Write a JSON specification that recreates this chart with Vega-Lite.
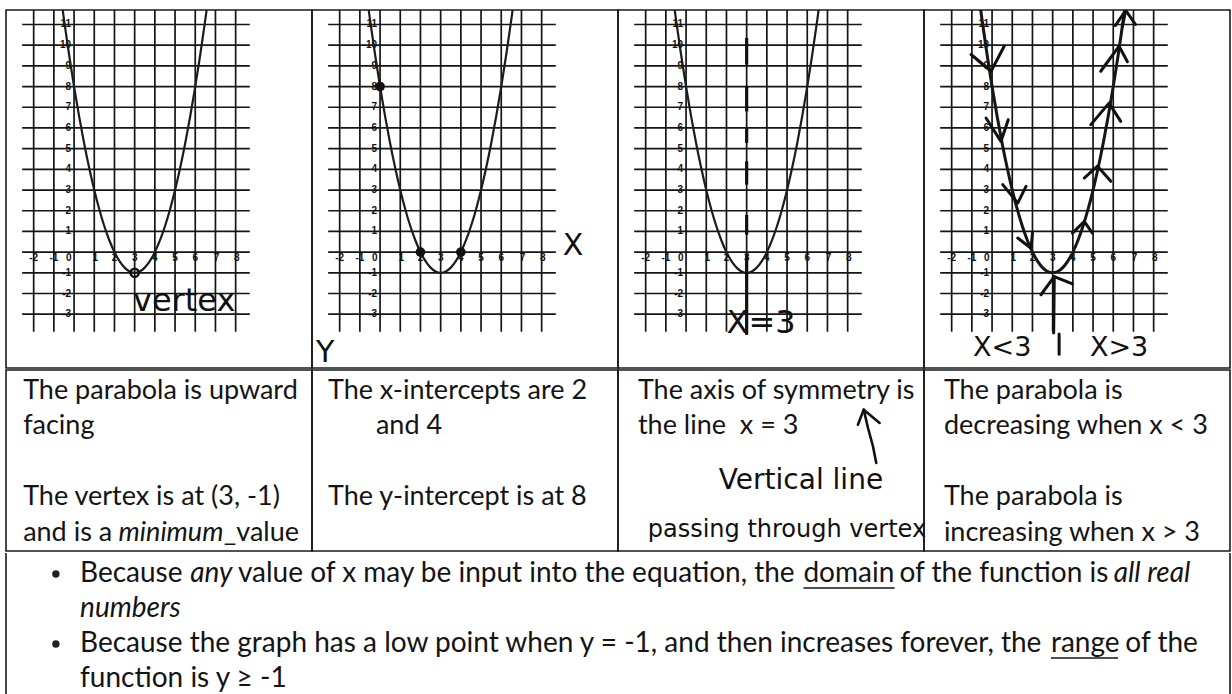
{
  "$schema": "https://vega.github.io/schema/vega-lite/v6.json",
  "background": "white",
  "padding": {"left": 5, "top": 9, "right": 2, "bottom": 0},
  "spacing": 0,
  "config": {"view": {"stroke": "#1a1a1a", "strokeWidth": 1.6}, "concat": {"spacing": 0}},
  "datasets": {
    "xlines": [{"x": -2}, {"x": -1}, {"x": 0}, {"x": 1}, {"x": 2}, {"x": 3}, {"x": 4}, {"x": 5}, {"x": 6}, {"x": 7}, {"x": 8}],
    "ylines": [{"y": -3}, {"y": -2}, {"y": -1}, {"y": 0}, {"y": 1}, {"y": 2}, {"y": 3}, {"y": 4}, {"y": 5}, {"y": 6}, {"y": 7}, {"y": 8}, {"y": 9}, {"y": 10}, {"y": 11}],
    "xlabels": [{"x": -2, "t": "-2"}, {"x": -1, "t": "-1"}, {"x": -0.26, "t": "0"}, {"x": 1.05, "t": "1"}, {"x": 2, "t": "2"}, {"x": 3, "t": "3"}, {"x": 4, "t": "4"}, {"x": 5, "t": "5"}, {"x": 6, "t": "6"}, {"x": 7.05, "t": "7"}, {"x": 8.05, "t": "8"}],
    "ylabels": [{"y": 11, "t": "11"}, {"y": 10, "t": "10"}, {"y": 9, "t": "9"}, {"y": 8, "t": "8"}, {"y": 7, "t": "7"}, {"y": 6, "t": "6"}, {"y": 5, "t": "5"}, {"y": 4, "t": "4"}, {"y": 3, "t": "3"}, {"y": 2, "t": "2"}, {"y": 1, "t": "1"}, {"y": -1, "t": "-1"}, {"y": -2, "t": "-2"}, {"y": -3, "t": "-3"}],
    "curve": [
      {"x": -0.75, "y": 13.0625}, {"x": -0.5, "y": 11.25}, {"x": -0.25, "y": 9.5625}, {"x": 0, "y": 8}, {"x": 0.25, "y": 6.5625}, {"x": 0.5, "y": 5.25}, {"x": 0.75, "y": 4.0625}, {"x": 1, "y": 3}, {"x": 1.25, "y": 2.0625}, {"x": 1.5, "y": 1.25}, {"x": 1.75, "y": 0.5625}, {"x": 2, "y": 0}, {"x": 2.25, "y": -0.4375}, {"x": 2.5, "y": -0.75}, {"x": 2.75, "y": -0.9375}, {"x": 3, "y": -1},
      {"x": 3.25, "y": -0.9375}, {"x": 3.5, "y": -0.75}, {"x": 3.75, "y": -0.4375}, {"x": 4, "y": 0}, {"x": 4.25, "y": 0.5625}, {"x": 4.5, "y": 1.25}, {"x": 4.75, "y": 2.0625}, {"x": 5, "y": 3}, {"x": 5.25, "y": 4.0625}, {"x": 5.5, "y": 5.25}, {"x": 5.75, "y": 6.5625}, {"x": 6, "y": 8}, {"x": 6.25, "y": 9.5625}, {"x": 6.5, "y": 11.25}, {"x": 6.75, "y": 13.0625}
    ],
    "vertex": [{"x": 3, "y": -1}],
    "intercepts": [{"x": 0, "y": 8}, {"x": 2, "y": 0}, {"x": 4, "y": 0}],
    "dashes": [{"y": 10.35, "y2": 9.06}, {"y": 8.0, "y2": 6.8}, {"y": 6.0, "y2": 5.27}, {"y": 4.39, "y2": 3.26}, {"y": 1.8, "y2": 0.84}, {"y": -0.13, "y2": -4.0}],
    "chevrons": [
      {"a": 1, "k": 1, "x": -1.04, "y": 9.55}, {"a": 1, "k": 2, "x": -0.05, "y": 8.74}, {"a": 1, "k": 3, "x": 0.6, "y": 9.95},
      {"a": 2, "k": 1, "x": -0.3, "y": 6.48}, {"a": 2, "k": 2, "x": 0.44, "y": 5.35}, {"a": 2, "k": 3, "x": 0.8, "y": 6.4},
      {"a": 3, "k": 1, "x": 0.53, "y": 3.26}, {"a": 3, "k": 2, "x": 1.27, "y": 2.37}, {"a": 3, "k": 3, "x": 1.68, "y": 3.18},
      {"a": 4, "k": 1, "x": 1.27, "y": 0.68}, {"a": 4, "k": 2, "x": 1.93, "y": 0.19}, {"a": 4, "k": 3, "x": 2.0, "y": 0.92},
      {"a": 5, "k": 1, "x": 2.42, "y": -2.06}, {"a": 5, "k": 2, "x": 3.08, "y": -1.18}, {"a": 5, "k": 3, "x": 3.98, "y": -1.53},
      {"a": 6, "k": 1, "x": 3.98, "y": 0.92}, {"a": 6, "k": 2, "x": 4.56, "y": 1.48}, {"a": 6, "k": 3, "x": 4.97, "y": 0.92},
      {"a": 7, "k": 1, "x": 4.56, "y": 3.58}, {"a": 7, "k": 2, "x": 5.22, "y": 4.15}, {"a": 7, "k": 3, "x": 5.88, "y": 3.42},
      {"a": 8, "k": 1, "x": 4.89, "y": 6.16}, {"a": 8, "k": 2, "x": 5.79, "y": 7.2}, {"a": 8, "k": 3, "x": 6.37, "y": 6.32},
      {"a": 9, "k": 1, "x": 5.38, "y": 8.74}, {"a": 9, "k": 2, "x": 6.29, "y": 9.95}, {"a": 9, "k": 3, "x": 6.7, "y": 9.2},
      {"a": 10, "k": 1, "x": 6.1, "y": 10.95}, {"a": 10, "k": 2, "x": 6.62, "y": 11.68}, {"a": 10, "k": 3, "x": 7.1, "y": 11.0},
      {"a": 11, "k": 1, "x": 6.45, "y": 10.9}, {"a": 11, "k": 2, "x": 6.62, "y": 11.68}
    ],
    "pointer": [{"g": 1, "k": 1, "x": 3.08, "y": -1.18}, {"g": 1, "k": 2, "x": 3.05, "y": -3.91}, {"g": 2, "k": 1, "x": 3.32, "y": -3.96}, {"g": 2, "k": 2, "x": 3.32, "y": -4.93}],
    "cells": [
      {"col": 1, "line": 1, "at": 5.6, "t": "The parabola is upward", "emph": "none"},
      {"col": 1, "line": 2, "at": 5.6, "t": "facing", "emph": "none"},
      {"col": 1, "line": 4, "at": 5.6, "t": "The vertex is at (3, -1)", "emph": "none"},
      {"col": 1, "line": 5, "at": 5.6, "t": "and is a", "emph": "none"},
      {"col": 1, "line": 5, "at": 36.8, "t": "minimum", "emph": "italic"},
      {"col": 1, "line": 5, "at": 71.2, "t": "_value", "emph": "none"},
      {"col": 2, "line": 1, "at": 5.2, "t": "The x-intercepts are 2", "emph": "none"},
      {"col": 2, "line": 2, "at": 20.9, "t": "and 4", "emph": "none"},
      {"col": 2, "line": 4, "at": 5.2, "t": "The y-intercept is at 8", "emph": "none"},
      {"col": 3, "line": 1, "at": 6.5, "t": "The axis of symmetry is", "emph": "none"},
      {"col": 3, "line": 2, "at": 6.5, "t": "the line\u00a0 x = 3", "emph": "none"},
      {"col": 4, "line": 1, "at": 6.5, "t": "The parabola is", "emph": "none"},
      {"col": 4, "line": 2, "at": 6.5, "t": "decreasing when x < 3", "emph": "none"},
      {"col": 4, "line": 4, "at": 6.5, "t": "The parabola is", "emph": "none"},
      {"col": 4, "line": 5, "at": 6.5, "t": "increasing when x > 3", "emph": "none"}
    ],
    "arrow3": [
      {"g": "shaft", "k": 1, "at": 80.3, "line": 1.30}, {"g": "shaft", "k": 2, "at": 81.7, "line": 1.817}, {"g": "shaft", "k": 3, "at": 83.3, "line": 2.324}, {"g": "shaft", "k": 4, "at": 84.4, "line": 2.803},
      {"g": "head", "k": 1, "at": 78.4, "line": 1.724}, {"g": "head", "k": 2, "at": 80.3, "line": 1.30}, {"g": "head", "k": 3, "at": 85.5, "line": 1.676}
    ],
    "notes": [
      {"line": 1, "at": 24.2, "t": "Because", "emph": "none"},
      {"line": 1, "at": 60.2, "t": "any", "emph": "italic"},
      {"line": 1, "at": 75.8, "t": "value of x may be input into the equation, the", "emph": "none"},
      {"line": 1, "at": 260.6, "t": "domain", "emph": "none"},
      {"line": 1, "at": 292.0, "t": "of the function is", "emph": "none"},
      {"line": 1, "at": 362.0, "t": "all real", "emph": "italic"},
      {"line": 2, "at": 24.2, "t": "numbers", "emph": "italic"},
      {"line": 3, "at": 24.2, "t": "Because the graph has a low point when y = -1, and then increases forever, the", "emph": "none"},
      {"line": 3, "at": 341.5, "t": "range", "emph": "none"},
      {"line": 3, "at": 365.8, "t": "of the", "emph": "none"},
      {"line": 4, "at": 24.2, "t": "function is y \u2265 -1", "emph": "none"}
    ],
    "bullets": [{"line": 1, "at": 16.3}, {"line": 3, "at": 16.3}],
    "underlines": [{"line": 1, "from": 260.6, "to": 290.4}, {"line": 3, "from": 341.5, "to": 363.4}]
  },
  "vconcat": [
    {
      "hconcat": [
        {
          "width": 306, "height": 358,
          "layer": [
            {"data": {"name": "xlines"}, "mark": {"type": "rule", "clip": true, "color": "#151515", "strokeWidth": 1.7},
             "encoding": {"x": {"field": "x", "type": "quantitative", "scale": {"domain": [-3.37, 11.78], "nice": false, "zero": false}, "axis": null},
                          "y": {"datum": -3.85, "type": "quantitative", "scale": {"domain": [-5.6, 11.7], "nice": false, "zero": false}, "axis": null}, "y2": {"datum": 12.5}}},
            {"data": {"name": "ylines"}, "mark": {"type": "rule", "clip": true, "color": "#151515", "strokeWidth": 1.7},
             "encoding": {"y": {"field": "y", "type": "quantitative", "scale": {"domain": [-5.6, 11.7], "nice": false, "zero": false}, "axis": null},
                          "x": {"datum": -2.57, "type": "quantitative", "scale": {"domain": [-3.37, 11.78], "nice": false, "zero": false}, "axis": null}, "x2": {"datum": 8.7}}},
            {"data": {"name": "xlabels"}, "mark": {"type": "text", "font": "Liberation Sans", "fontSize": 10, "fontWeight": "bold", "align": "center", "baseline": "middle", "color": "#111"},
             "encoding": {"x": {"field": "x", "type": "quantitative", "scale": {"domain": [-3.37, 11.78], "nice": false, "zero": false}, "axis": null},
                          "y": {"datum": -0.3, "type": "quantitative", "scale": {"domain": [-5.6, 11.7], "nice": false, "zero": false}, "axis": null}, "text": {"field": "t"}}},
            {"data": {"name": "ylabels"}, "mark": {"type": "text", "font": "Liberation Sans", "fontSize": 10, "fontWeight": "bold", "align": "right", "baseline": "middle", "color": "#111"},
             "encoding": {"x": {"datum": -0.15, "type": "quantitative", "scale": {"domain": [-3.37, 11.78], "nice": false, "zero": false}, "axis": null},
                          "y": {"field": "y", "type": "quantitative", "scale": {"domain": [-5.6, 11.7], "nice": false, "zero": false}, "axis": null}, "text": {"field": "t"}}},
            {"data": {"name": "curve"}, "mark": {"type": "line", "clip": true, "color": "#1c1c1c", "strokeWidth": 2.2, "interpolate": "monotone"},
             "encoding": {"x": {"field": "x", "type": "quantitative", "scale": {"domain": [-3.37, 11.78], "nice": false, "zero": false}, "axis": null},
                          "y": {"field": "y", "type": "quantitative", "scale": {"domain": [-5.6, 11.7], "nice": false, "zero": false}, "axis": null}}},
            {"data": {"name": "vertex"}, "mark": {"type": "point", "shape": "circle", "filled": false, "size": 70, "strokeWidth": 2.4, "color": "#111", "opacity": 1},
             "encoding": {"x": {"field": "x", "type": "quantitative", "scale": {"domain": [-3.37, 11.78], "nice": false, "zero": false}, "axis": null},
                          "y": {"field": "y", "type": "quantitative", "scale": {"domain": [-5.6, 11.7], "nice": false, "zero": false}, "axis": null}}},
            {"data": {"values": [{"x": 5.45, "y": -2.85, "t": "vertex"}]}, "mark": {"type": "text", "font": "DejaVu Sans", "fontSize": 32, "align": "center", "baseline": "alphabetic", "color": "#111"},
             "encoding": {"x": {"field": "x", "type": "quantitative", "scale": {"domain": [-3.37, 11.78], "nice": false, "zero": false}, "axis": null},
                          "y": {"field": "y", "type": "quantitative", "scale": {"domain": [-5.6, 11.7], "nice": false, "zero": false}, "axis": null}, "text": {"field": "t"}}}
          ]
        },
        {
          "width": 306, "height": 358,
          "layer": [
            {"data": {"name": "xlines"}, "mark": {"type": "rule", "clip": true, "color": "#151515", "strokeWidth": 1.7},
             "encoding": {"x": {"field": "x", "type": "quantitative", "scale": {"domain": [-3.37, 11.78], "nice": false, "zero": false}, "axis": null},
                          "y": {"datum": -3.85, "type": "quantitative", "scale": {"domain": [-5.6, 11.7], "nice": false, "zero": false}, "axis": null}, "y2": {"datum": 12.5}}},
            {"data": {"name": "ylines"}, "mark": {"type": "rule", "clip": true, "color": "#151515", "strokeWidth": 1.7},
             "encoding": {"y": {"field": "y", "type": "quantitative", "scale": {"domain": [-5.6, 11.7], "nice": false, "zero": false}, "axis": null},
                          "x": {"datum": -2.57, "type": "quantitative", "scale": {"domain": [-3.37, 11.78], "nice": false, "zero": false}, "axis": null}, "x2": {"datum": 8.7}}},
            {"data": {"name": "xlabels"}, "mark": {"type": "text", "font": "Liberation Sans", "fontSize": 10, "fontWeight": "bold", "align": "center", "baseline": "middle", "color": "#111"},
             "encoding": {"x": {"field": "x", "type": "quantitative", "scale": {"domain": [-3.37, 11.78], "nice": false, "zero": false}, "axis": null},
                          "y": {"datum": -0.3, "type": "quantitative", "scale": {"domain": [-5.6, 11.7], "nice": false, "zero": false}, "axis": null}, "text": {"field": "t"}}},
            {"data": {"name": "ylabels"}, "mark": {"type": "text", "font": "Liberation Sans", "fontSize": 10, "fontWeight": "bold", "align": "right", "baseline": "middle", "color": "#111"},
             "encoding": {"x": {"datum": -0.15, "type": "quantitative", "scale": {"domain": [-3.37, 11.78], "nice": false, "zero": false}, "axis": null},
                          "y": {"field": "y", "type": "quantitative", "scale": {"domain": [-5.6, 11.7], "nice": false, "zero": false}, "axis": null}, "text": {"field": "t"}}},
            {"data": {"name": "curve"}, "mark": {"type": "line", "clip": true, "color": "#1c1c1c", "strokeWidth": 2.2, "interpolate": "monotone"},
             "encoding": {"x": {"field": "x", "type": "quantitative", "scale": {"domain": [-3.37, 11.78], "nice": false, "zero": false}, "axis": null},
                          "y": {"field": "y", "type": "quantitative", "scale": {"domain": [-5.6, 11.7], "nice": false, "zero": false}, "axis": null}}},
            {"data": {"name": "intercepts"}, "mark": {"type": "point", "shape": "circle", "filled": true, "size": 95, "color": "#111", "opacity": 1},
             "encoding": {"x": {"field": "x", "type": "quantitative", "scale": {"domain": [-3.37, 11.78], "nice": false, "zero": false}, "axis": null},
                          "y": {"field": "y", "type": "quantitative", "scale": {"domain": [-5.6, 11.7], "nice": false, "zero": false}, "axis": null}}},
            {"data": {"values": [{"x": 9.55, "y": 0.29, "t": "X"}, {"x": -2.72, "y": -4.88, "t": "Y"}]}, "mark": {"type": "text", "font": "DejaVu Sans", "fontSize": 30, "align": "center", "baseline": "middle", "color": "#111"},
             "encoding": {"x": {"field": "x", "type": "quantitative", "scale": {"domain": [-3.37, 11.78], "nice": false, "zero": false}, "axis": null},
                          "y": {"field": "y", "type": "quantitative", "scale": {"domain": [-5.6, 11.7], "nice": false, "zero": false}, "axis": null}, "text": {"field": "t"}}}
          ]
        },
        {
          "width": 306, "height": 358,
          "layer": [
            {"data": {"name": "xlines"}, "mark": {"type": "rule", "clip": true, "color": "#151515", "strokeWidth": 1.7},
             "encoding": {"x": {"field": "x", "type": "quantitative", "scale": {"domain": [-3.37, 11.78], "nice": false, "zero": false}, "axis": null},
                          "y": {"datum": -3.85, "type": "quantitative", "scale": {"domain": [-5.6, 11.7], "nice": false, "zero": false}, "axis": null}, "y2": {"datum": 12.5}}},
            {"data": {"name": "ylines"}, "mark": {"type": "rule", "clip": true, "color": "#151515", "strokeWidth": 1.7},
             "encoding": {"y": {"field": "y", "type": "quantitative", "scale": {"domain": [-5.6, 11.7], "nice": false, "zero": false}, "axis": null},
                          "x": {"datum": -2.57, "type": "quantitative", "scale": {"domain": [-3.37, 11.78], "nice": false, "zero": false}, "axis": null}, "x2": {"datum": 8.7}}},
            {"data": {"name": "xlabels"}, "mark": {"type": "text", "font": "Liberation Sans", "fontSize": 10, "fontWeight": "bold", "align": "center", "baseline": "middle", "color": "#111"},
             "encoding": {"x": {"field": "x", "type": "quantitative", "scale": {"domain": [-3.37, 11.78], "nice": false, "zero": false}, "axis": null},
                          "y": {"datum": -0.3, "type": "quantitative", "scale": {"domain": [-5.6, 11.7], "nice": false, "zero": false}, "axis": null}, "text": {"field": "t"}}},
            {"data": {"name": "ylabels"}, "mark": {"type": "text", "font": "Liberation Sans", "fontSize": 10, "fontWeight": "bold", "align": "right", "baseline": "middle", "color": "#111"},
             "encoding": {"x": {"datum": -0.15, "type": "quantitative", "scale": {"domain": [-3.37, 11.78], "nice": false, "zero": false}, "axis": null},
                          "y": {"field": "y", "type": "quantitative", "scale": {"domain": [-5.6, 11.7], "nice": false, "zero": false}, "axis": null}, "text": {"field": "t"}}},
            {"data": {"name": "curve"}, "mark": {"type": "line", "clip": true, "color": "#1c1c1c", "strokeWidth": 2.2, "interpolate": "monotone"},
             "encoding": {"x": {"field": "x", "type": "quantitative", "scale": {"domain": [-3.37, 11.78], "nice": false, "zero": false}, "axis": null},
                          "y": {"field": "y", "type": "quantitative", "scale": {"domain": [-5.6, 11.7], "nice": false, "zero": false}, "axis": null}}},
            {"data": {"name": "dashes"}, "mark": {"type": "rule", "clip": true, "color": "#111", "strokeWidth": 3.2},
             "encoding": {"x": {"datum": 3, "type": "quantitative", "scale": {"domain": [-3.37, 11.78], "nice": false, "zero": false}, "axis": null},
                          "y": {"field": "y", "type": "quantitative", "scale": {"domain": [-5.6, 11.7], "nice": false, "zero": false}, "axis": null}, "y2": {"field": "y2"}}},
            {"data": {"values": [{"x": 3.71, "y": -3.43, "t": "X=3"}]}, "mark": {"type": "text", "font": "DejaVu Sans", "fontSize": 32, "align": "center", "baseline": "middle", "color": "#111"},
             "encoding": {"x": {"field": "x", "type": "quantitative", "scale": {"domain": [-3.37, 11.78], "nice": false, "zero": false}, "axis": null},
                          "y": {"field": "y", "type": "quantitative", "scale": {"domain": [-5.6, 11.7], "nice": false, "zero": false}, "axis": null}, "text": {"field": "t"}}}
          ]
        },
        {
          "width": 306, "height": 358,
          "layer": [
            {"data": {"name": "xlines"}, "mark": {"type": "rule", "clip": true, "color": "#151515", "strokeWidth": 1.7},
             "encoding": {"x": {"field": "x", "type": "quantitative", "scale": {"domain": [-3.37, 11.78], "nice": false, "zero": false}, "axis": null},
                          "y": {"datum": -3.85, "type": "quantitative", "scale": {"domain": [-5.6, 11.7], "nice": false, "zero": false}, "axis": null}, "y2": {"datum": 12.5}}},
            {"data": {"name": "ylines"}, "mark": {"type": "rule", "clip": true, "color": "#151515", "strokeWidth": 1.7},
             "encoding": {"y": {"field": "y", "type": "quantitative", "scale": {"domain": [-5.6, 11.7], "nice": false, "zero": false}, "axis": null},
                          "x": {"datum": -2.57, "type": "quantitative", "scale": {"domain": [-3.37, 11.78], "nice": false, "zero": false}, "axis": null}, "x2": {"datum": 8.7}}},
            {"data": {"name": "xlabels"}, "mark": {"type": "text", "font": "Liberation Sans", "fontSize": 10, "fontWeight": "bold", "align": "center", "baseline": "middle", "color": "#111"},
             "encoding": {"x": {"field": "x", "type": "quantitative", "scale": {"domain": [-3.37, 11.78], "nice": false, "zero": false}, "axis": null},
                          "y": {"datum": -0.3, "type": "quantitative", "scale": {"domain": [-5.6, 11.7], "nice": false, "zero": false}, "axis": null}, "text": {"field": "t"}}},
            {"data": {"name": "ylabels"}, "mark": {"type": "text", "font": "Liberation Sans", "fontSize": 10, "fontWeight": "bold", "align": "right", "baseline": "middle", "color": "#111"},
             "encoding": {"x": {"datum": -0.15, "type": "quantitative", "scale": {"domain": [-3.37, 11.78], "nice": false, "zero": false}, "axis": null},
                          "y": {"field": "y", "type": "quantitative", "scale": {"domain": [-5.6, 11.7], "nice": false, "zero": false}, "axis": null}, "text": {"field": "t"}}},
            {"data": {"name": "curve"}, "mark": {"type": "line", "clip": true, "color": "#161616", "strokeWidth": 3, "interpolate": "monotone"},
             "encoding": {"x": {"field": "x", "type": "quantitative", "scale": {"domain": [-3.37, 11.78], "nice": false, "zero": false}, "axis": null},
                          "y": {"field": "y", "type": "quantitative", "scale": {"domain": [-5.6, 11.7], "nice": false, "zero": false}, "axis": null}}},
            {"data": {"name": "chevrons"}, "mark": {"type": "line", "clip": true, "color": "#111", "strokeWidth": 3, "strokeCap": "round", "strokeJoin": "round"},
             "encoding": {"x": {"field": "x", "type": "quantitative", "scale": {"domain": [-3.37, 11.78], "nice": false, "zero": false}, "axis": null},
                          "y": {"field": "y", "type": "quantitative", "scale": {"domain": [-5.6, 11.7], "nice": false, "zero": false}, "axis": null},
                          "detail": {"field": "a"}, "order": {"field": "k"}}},
            {"data": {"name": "pointer"}, "mark": {"type": "line", "clip": true, "color": "#111", "strokeWidth": 3, "strokeCap": "round"},
             "encoding": {"x": {"field": "x", "type": "quantitative", "scale": {"domain": [-3.37, 11.78], "nice": false, "zero": false}, "axis": null},
                          "y": {"field": "y", "type": "quantitative", "scale": {"domain": [-5.6, 11.7], "nice": false, "zero": false}, "axis": null},
                          "detail": {"field": "g"}, "order": {"field": "k"}}},
            {"data": {"values": [{"x": 0.5, "y": -4.64, "t": "X<3"}, {"x": 6.29, "y": -4.64, "t": "X>3"}]}, "mark": {"type": "text", "font": "DejaVu Sans", "fontSize": 27, "align": "center", "baseline": "middle", "color": "#111"},
             "encoding": {"x": {"field": "x", "type": "quantitative", "scale": {"domain": [-3.37, 11.78], "nice": false, "zero": false}, "axis": null},
                          "y": {"field": "y", "type": "quantitative", "scale": {"domain": [-5.6, 11.7], "nice": false, "zero": false}, "axis": null}, "text": {"field": "t"}}}
          ]
        }
      ],
      "spacing": 0,
      "bounds": "flush"
    },
    {
      "hconcat": [
        {
          "width": 306, "height": 181,
          "layer": [
            {"data": {"name": "cells"}, "transform": [{"filter": "datum.col == 1 && datum.emph == 'none'"}],
             "mark": {"type": "text", "font": "Lato", "fontSize": 27, "align": "left", "baseline": "alphabetic", "color": "#141414"},
             "encoding": {"x": {"field": "at", "type": "quantitative", "scale": {"domain": [0, 100], "nice": false, "zero": false}, "axis": null},
                          "y": {"field": "line", "type": "quantitative", "scale": {"domain": [0.183, 5.282], "reverse": true, "nice": false, "zero": false}, "axis": null}, "text": {"field": "t"}}},
            {"data": {"name": "cells"}, "transform": [{"filter": "datum.col == 1 && datum.emph == 'italic'"}],
             "mark": {"type": "text", "font": "Lato", "fontSize": 27, "fontStyle": "italic", "align": "left", "baseline": "alphabetic", "color": "#141414"},
             "encoding": {"x": {"field": "at", "type": "quantitative", "scale": {"domain": [0, 100], "nice": false, "zero": false}, "axis": null},
                          "y": {"field": "line", "type": "quantitative", "scale": {"domain": [0.183, 5.282], "reverse": true, "nice": false, "zero": false}, "axis": null}, "text": {"field": "t"}}}
          ]
        },
        {
          "width": 306, "height": 181,
          "layer": [
            {"data": {"name": "cells"}, "transform": [{"filter": "datum.col == 2"}],
             "mark": {"type": "text", "font": "Lato", "fontSize": 27, "align": "left", "baseline": "alphabetic", "color": "#141414"},
             "encoding": {"x": {"field": "at", "type": "quantitative", "scale": {"domain": [0, 100], "nice": false, "zero": false}, "axis": null},
                          "y": {"field": "line", "type": "quantitative", "scale": {"domain": [0.183, 5.282], "reverse": true, "nice": false, "zero": false}, "axis": null}, "text": {"field": "t"}}}
          ]
        },
        {
          "width": 306, "height": 181,
          "layer": [
            {"data": {"name": "cells"}, "transform": [{"filter": "datum.col == 3"}],
             "mark": {"type": "text", "font": "Lato", "fontSize": 27, "align": "left", "baseline": "alphabetic", "color": "#141414"},
             "encoding": {"x": {"field": "at", "type": "quantitative", "scale": {"domain": [0, 100], "nice": false, "zero": false}, "axis": null},
                          "y": {"field": "line", "type": "quantitative", "scale": {"domain": [0.183, 5.282], "reverse": true, "nice": false, "zero": false}, "axis": null}, "text": {"field": "t"}}},
            {"data": {"name": "arrow3"}, "mark": {"type": "line", "color": "#111", "strokeWidth": 2.6, "strokeCap": "round", "strokeJoin": "round"},
             "encoding": {"x": {"field": "at", "type": "quantitative", "scale": {"domain": [0, 100], "nice": false, "zero": false}, "axis": null},
                          "y": {"field": "line", "type": "quantitative", "scale": {"domain": [0.183, 5.282], "reverse": true, "nice": false, "zero": false}, "axis": null},
                          "detail": {"field": "g"}, "order": {"field": "k"}}},
            {"data": {"values": [{"at": 59.8, "line": 3.53, "t": "Vertical line"}]},
             "mark": {"type": "text", "font": "DejaVu Sans", "fontSize": 28, "align": "center", "baseline": "alphabetic", "color": "#111"},
             "encoding": {"x": {"field": "at", "type": "quantitative", "scale": {"domain": [0, 100], "nice": false, "zero": false}, "axis": null},
                          "y": {"field": "line", "type": "quantitative", "scale": {"domain": [0.183, 5.282], "reverse": true, "nice": false, "zero": false}, "axis": null}, "text": {"field": "t"}}},
            {"data": {"values": [{"at": 55.2, "line": 4.9, "t": "passing through vertex"}]},
             "mark": {"type": "text", "font": "DejaVu Sans", "fontSize": 24, "align": "center", "baseline": "alphabetic", "color": "#111"},
             "encoding": {"x": {"field": "at", "type": "quantitative", "scale": {"domain": [0, 100], "nice": false, "zero": false}, "axis": null},
                          "y": {"field": "line", "type": "quantitative", "scale": {"domain": [0.183, 5.282], "reverse": true, "nice": false, "zero": false}, "axis": null}, "text": {"field": "t"}}}
          ]
        },
        {
          "width": 306, "height": 181,
          "layer": [
            {"data": {"name": "cells"}, "transform": [{"filter": "datum.col == 4"}],
             "mark": {"type": "text", "font": "Lato", "fontSize": 27, "align": "left", "baseline": "alphabetic", "color": "#141414"},
             "encoding": {"x": {"field": "at", "type": "quantitative", "scale": {"domain": [0, 100], "nice": false, "zero": false}, "axis": null},
                          "y": {"field": "line", "type": "quantitative", "scale": {"domain": [0.183, 5.282], "reverse": true, "nice": false, "zero": false}, "axis": null}, "text": {"field": "t"}}}
          ]
        }
      ],
      "spacing": 0,
      "bounds": "flush"
    },
    {
      "width": 1224, "height": 143,
      "view": {"stroke": null},
      "layer": [
        {"data": {"name": "notes"}, "transform": [{"filter": "datum.emph == 'none'"}],
         "mark": {"type": "text", "font": "Lato", "fontSize": 28, "align": "left", "baseline": "alphabetic", "color": "#141414"},
         "encoding": {"x": {"field": "at", "type": "quantitative", "scale": {"domain": [0, 400], "nice": false, "zero": false}, "axis": null},
                      "y": {"field": "line", "type": "quantitative", "scale": {"domain": [0.1714, 4.257], "reverse": true, "nice": false, "zero": false}, "axis": null}, "text": {"field": "t"}}},
        {"data": {"name": "notes"}, "transform": [{"filter": "datum.emph == 'italic'"}],
         "mark": {"type": "text", "font": "Lato", "fontSize": 28, "fontStyle": "italic", "align": "left", "baseline": "alphabetic", "color": "#141414"},
         "encoding": {"x": {"field": "at", "type": "quantitative", "scale": {"domain": [0, 400], "nice": false, "zero": false}, "axis": null},
                      "y": {"field": "line", "type": "quantitative", "scale": {"domain": [0.1714, 4.257], "reverse": true, "nice": false, "zero": false}, "axis": null}, "text": {"field": "t"}}},
        {"data": {"name": "bullets"}, "mark": {"type": "point", "shape": "circle", "filled": true, "size": 55, "color": "#222", "opacity": 1, "yOffset": -8},
         "encoding": {"x": {"field": "at", "type": "quantitative", "scale": {"domain": [0, 400], "nice": false, "zero": false}, "axis": null},
                      "y": {"field": "line", "type": "quantitative", "scale": {"domain": [0.1714, 4.257], "reverse": true, "nice": false, "zero": false}, "axis": null}}},
        {"data": {"name": "underlines"}, "mark": {"type": "rule", "color": "#141414", "strokeWidth": 1.5, "yOffset": 6},
         "encoding": {"x": {"field": "from", "type": "quantitative", "scale": {"domain": [0, 400], "nice": false, "zero": false}, "axis": null}, "x2": {"field": "to"},
                      "y": {"field": "line", "type": "quantitative", "scale": {"domain": [0.1714, 4.257], "reverse": true, "nice": false, "zero": false}, "axis": null}}},
        {"data": {"values": [{"edge": 0}, {"edge": 400}]}, "mark": {"type": "rule", "color": "#1a1a1a", "strokeWidth": 1.6},
         "encoding": {"x": {"field": "edge", "type": "quantitative", "scale": {"domain": [0, 400], "nice": false, "zero": false}, "axis": null}}}
      ]
    }
  ]
}
